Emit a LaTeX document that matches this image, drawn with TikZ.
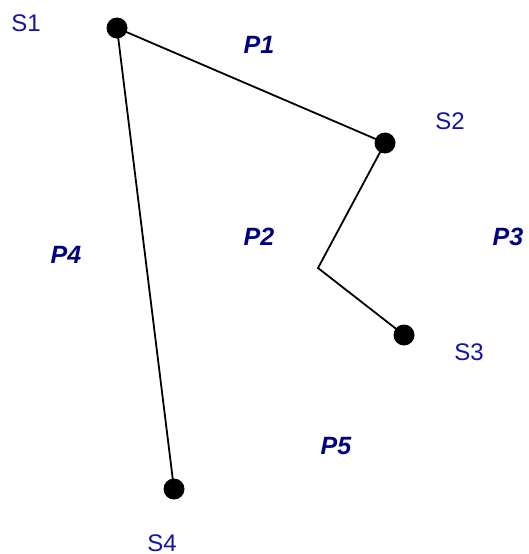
\documentclass[tikz,border=0pt]{standalone}
\usepackage{fontspec}
\setmainfont{Liberation Sans}
\definecolor{slabel}{RGB}{20,20,160}
\definecolor{plabel}{RGB}{0,0,130}
\begin{document}
\begin{tikzpicture}[x=1pt,y=-1pt,
  dot/.style={circle,fill=black,inner sep=0pt,minimum size=21pt},
  slab/.style={text=slabel,font=\fontsize{24}{26}\selectfont,inner sep=0pt},
  plab/.style={text=plabel,font=\fontsize{25}{27}\selectfont\bfseries\itshape,inner sep=0pt},
  edge/.style={line width=1.8pt}]
\useasboundingbox (0,0) rectangle (528,554);
\node[dot] (s1) at (117,28) {};
\node[dot] (s2) at (385,143) {};
\node[dot] (s3) at (404,335) {};
\node[dot] (s4) at (174,489) {};
\coordinate (b) at (318,268);
\draw[edge] (s1.center) -- (s2.center) -- (b) -- (s3.center);
\draw[edge] (s1.center) -- (s4.center);
\node[slab] (l1) at (26,23) {S1};
\node[slab] (l2) at (450,121) {S2};
\node[slab] (l3) at (469,352) {S3};
\node[slab] (l4) at (162,543) {S4};
\node[plab] (p1) at (259,45) {P1};
\node[plab] (p2) at (259,237) {P2};
\node[plab] (p3) at (508,237) {P3};
\node[plab] (p4) at (66,255) {P4};
\node[plab] (p5) at (336,446) {P5};
\end{tikzpicture}
\end{document}
